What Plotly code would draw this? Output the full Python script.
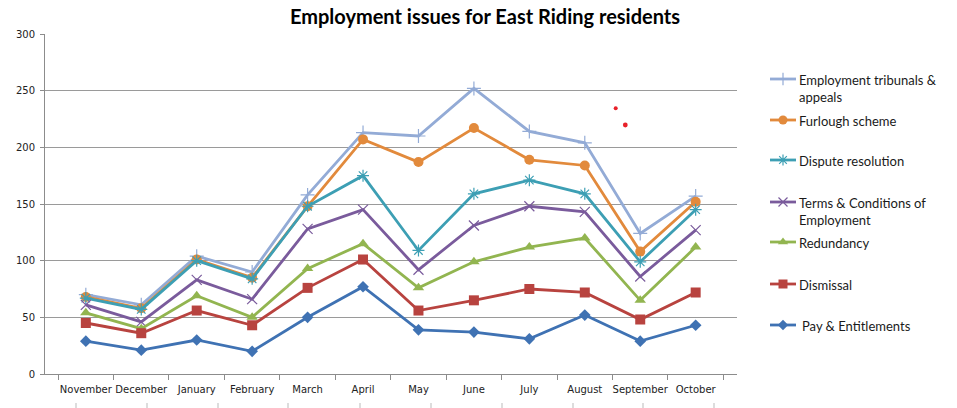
import plotly.graph_objects as go

# Monthly counts of enquiries by topic
months = ["November", "December", "January", "February", "March", "April",
          "May", "June", "July", "August", "September", "October"]

employment_tribunals = [70, 61, 104, 90, 158, 213, 210, 252, 214, 204, 124, 157]
furlough_scheme = [68, 58, 101, 85, 148, 207, 187, 217, 189, 184, 108, 152]
dispute_resolution = [67, 57, 100, 84, 148, 175, 109, 159, 171, 159, 99, 145]
terms_conditions = [61, 46, 83, 66, 128, 145, 92, 131, 148, 143, 86, 127]
redundancy = [54, 40, 69, 50, 93, 115, 76, 99, 112, 120, 65, 112]
dismissal = [45, 36, 56, 43, 76, 101, 56, 65, 75, 72, 48, 72]
pay_entitlements = [29, 21, 30, 20, 50, 77, 39, 37, 31, 52, 29, 43]

series_names = ["Employment tribunals &<br>appeals", "Furlough scheme", "Dispute resolution",
                "Terms & Conditions of<br>Employment", "Redundancy", "Dismissal",
                "Pay & Entitlements"]
series_values = [employment_tribunals, furlough_scheme, dispute_resolution,
                 terms_conditions, redundancy, dismissal, pay_entitlements]

colors = ["#93ABD6", "#E28A3C", "#3D9FB4", "#7A5B9C", "#92B550", "#B8433F", "#3F72B3"]
symbols = ["cross-thin-open", "circle", "asterisk-open", "x-thin-open",
           "triangle-up", "square", "diamond"]
msizes = [10, 10, 10, 10, 10, 10, 9]
legend_msizes = [9, 9, 9, 9, 9, 9, 8]

W, H = 957, 408
ML, MR, MT, MB = 45, 0, 34, 34
PW = W - ML - MR
PH = H - MT - MB
PLOT_RIGHT = 736.5


def px_x(px):
    return (px - ML) / PW


def px_y(py):
    return (H - MB - py) / PH


fig = go.Figure()

for name, vals, col, sym, ms in zip(series_names, series_values, colors, symbols, msizes):
    thin = sym.endswith("-open")
    fig.add_trace(go.Scatter(
        x=months, y=vals, mode="lines+markers", name=name, showlegend=False,
        line=dict(color=col, width=2.8),
        marker=dict(symbol=sym, size=ms, color=col,
                    line=dict(color=col, width=1.2 if thin else 0)),
        xaxis="x", yaxis="y",
    ))

# Legend drawn on an auxiliary axis measured in pixels
legend_rows = [79, 120, 160, 202, 242, 284, 325]
LX0, LX1, LMID, LTXT = 770, 796, 783, 797
for i, (name, col, sym, ms) in enumerate(zip(series_names, colors, symbols, legend_msizes)):
    row = legend_rows[i]
    thin = sym.endswith("-open")
    fig.add_trace(go.Scatter(
        x=[LX0, LX1], y=[row, row], mode="lines", showlegend=False,
        line=dict(color=col, width=2.8), xaxis="x2", yaxis="y2", hoverinfo="skip",
    ))
    fig.add_trace(go.Scatter(
        x=[LMID], y=[row], mode="markers", showlegend=False,
        marker=dict(symbol=sym, size=ms, color=col,
                    line=dict(color=col, width=1.2 if thin else 0)),
        xaxis="x2", yaxis="y2", hoverinfo="skip",
    ))
    fig.add_annotation(
        x=LTXT, y=row - 9, xref="x2", yref="y2", text=name, showarrow=False,
        xanchor="left", yanchor="top", align="left",
        xshift=3 if i == 6 else 0,
        font=dict(family="Lato", size=13, color="#1a1a1a"),
    )

shapes = []
# stray red dots
for cx, cy, r in [(615.7, 108.3, 2.0), (625.3, 125, 2.4)]:
    shapes.append(dict(type="circle", xref="paper", yref="paper",
                       x0=px_x(cx - r), x1=px_x(cx + r), y0=px_y(cy + r), y1=px_y(cy - r),
                       fillcolor="#E8212A", line=dict(width=0)))
# tick marks peeking in at the bottom edge
for tx in [76, 147, 218, 288, 360, 431, 502, 573, 643, 714]:
    shapes.append(dict(type="line", xref="paper", yref="paper",
                       x0=px_x(tx), x1=px_x(tx), y0=px_y(403), y1=px_y(409),
                       line=dict(color="#BBBBBB", width=1)))

tick_font = dict(family="DejaVu Sans", size=10, color="#222222")

fig.update_layout(
    width=W, height=H,
    margin=dict(l=ML, r=MR, t=MT, b=MB, autoexpand=False),
    paper_bgcolor="white", plot_bgcolor="white",
    title=dict(text="<b>Employment issues for East Riding residents</b>",
               x=485 / W, xanchor="center", y=1 - 17 / H, yanchor="middle",
               xref="container", yref="container",
               font=dict(family="Lato", size=20, color="#000000")),
    xaxis=dict(domain=[0, px_x(PLOT_RIGHT)], type="category",
               categoryorder="array", categoryarray=months,
               showgrid=False, showline=True, linecolor="#8C8C8C", linewidth=1,
               ticks="outside", tickson="boundaries", ticklen=5, tickcolor="#8C8C8C",
               tickangle=0, automargin=False, ticklabelstandoff=6,
               tickfont=tick_font, fixedrange=True),
    yaxis=dict(range=[0, 300], dtick=50, showgrid=True, gridcolor="#9A9A9A", gridwidth=1,
               showline=True, linecolor="#8C8C8C", linewidth=1, zeroline=False,
               ticks="outside", ticklen=4, tickcolor="#8C8C8C", automargin=False,
               ticklabelstandoff=3,
               tickfont=tick_font, fixedrange=True),
    xaxis2=dict(domain=[px_x(760), 1], range=[760, W], visible=False, fixedrange=True,
                anchor="y2"),
    yaxis2=dict(domain=[0, 1], range=[H - MB, MT], visible=False, fixedrange=True,
                anchor="x2"),
    shapes=shapes,
    showlegend=False,
)

fig.write_html("out.html")
